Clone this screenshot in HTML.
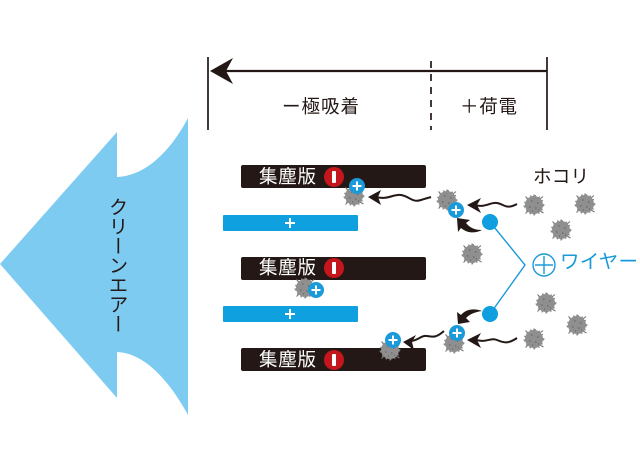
<!DOCTYPE html>
<html><head><meta charset="utf-8"><style>
html,body{margin:0;padding:0;background:#fff}
svg{display:block}
text{font-family:"Liberation Sans","Noto Sans CJK JP",sans-serif}
</style></head><body>
<svg width="640" height="453" viewBox="0 0 640 453" xmlns="http://www.w3.org/2000/svg">
<defs>
<g id="d">
<path d="M-6-6-8.500-8.500M6-6 9-8.500M6 6 9.500 8M-6 6-8.500 8.500M0-8V-10.500M0 8V10.500M-8 1H-10.500M8 0H10.500" stroke="#777" stroke-width="1.1"/>
<circle r="9" fill="#8f8f8f"/>
<circle r="9.300" fill="none" stroke="#8a8a8a" stroke-width="1.600" stroke-dasharray="1.400 3"/>
<path d="M-3-4h1.500M3-2h1.500M-5 2h1.500M1 3h1.500M4 5h1M-2 6h1" stroke="#5c5c5c" stroke-width="1"/>
</g>
<g id="p">
<circle r="8" fill="#1a9ad9"/>
<path d="M-4.500 0H4.500M0-4.500V4.500" stroke="#fff" stroke-width="2"/>
</g>
</defs>

<path d="M0 264 117 132V177C145 176 170 152 188 118V415C170 382 145 353 117 352V398Z" fill="#7ecbf2"/>
<text x="116" y="197" font-size="19.500" fill="#231815" style="writing-mode:vertical-rl;text-orientation:upright" text-anchor="start">クリーンエアー</text>

<g stroke="#231815" fill="none">
<path d="M208 57V130M547 57V130" stroke-width="1.700"/>
<path d="M225 71H547" stroke-width="2.200"/>
<path d="M431 61V130" stroke-width="1.700" stroke-dasharray="7 6"/>
</g>
<path d="M210 71 233 58 226 71 233 84Z" fill="#231815"/>
<text x="282" y="113" font-size="18.500" fill="#231815" textLength="77">ー極吸着</text>
<text x="460" y="113" font-size="18.500" fill="#231815" textLength="57">＋荷電</text>

<g fill="#231815">
<rect x="241" y="165" width="185" height="23" rx="2"/>
<rect x="241" y="257" width="185" height="23" rx="2"/>
<rect x="241" y="348" width="185" height="23" rx="2"/>
</g>
<g fill="#fff" font-size="18.500">
<text x="259" y="183" textLength="57">集塵版</text>
<text x="259" y="274" textLength="57">集塵版</text>
<text x="259" y="366" textLength="57">集塵版</text>
</g>
<g>
<circle cx="334" cy="177" r="10" fill="#c4161c"/><rect x="332" y="171" width="4" height="12" rx="1" fill="#fff"/>
<circle cx="334" cy="268" r="10" fill="#c4161c"/><rect x="332" y="262" width="4" height="12" rx="1" fill="#fff"/>
<circle cx="334" cy="360" r="10" fill="#c4161c"/><rect x="332" y="354" width="4" height="12" rx="1" fill="#fff"/>
</g>

<rect x="223" y="215" width="135" height="16" rx="1" fill="#0fa0e0"/>
<rect x="223" y="306" width="135" height="16" rx="1" fill="#0fa0e0"/>
<path d="M285 223H295M290 218V228M285 314H295M290 309V319" stroke="#fff" stroke-width="2"/>

<use href="#d" x="354" y="196"/>
<use href="#d" x="447" y="200"/>
<use href="#d" x="534" y="205"/>
<use href="#d" x="585" y="204"/>
<use href="#d" x="561" y="230"/>
<use href="#d" x="472" y="254"/>
<use href="#d" x="546" y="303"/>
<use href="#d" x="577" y="325"/>
<use href="#d" x="534" y="339"/>
<use href="#d" x="454" y="343"/>
<use href="#d" x="390" y="350"/>
<use href="#d" x="305" y="288"/>

<use href="#p" x="357" y="186"/>
<use href="#p" x="456" y="210"/>
<use href="#p" x="457" y="333"/>
<use href="#p" x="316" y="290"/>
<use href="#p" x="393" y="340"/>

<g fill="none" stroke="#231815" stroke-width="2">
<path d="M376 197C388 200 393 194 401 195S412 203 421 200 428 198 431 197"/>
<path d="M474 205C486 208 490 202 497 203S506 210 517 204"/>
<path d="M474 339C486 344 490 337 497 340S508 344 517 338"/>
<path d="M410 341C418 341 421 335 427 336S436 338 444 331"/>
</g>
<g fill="#231815">
<path d="M368 197 381 190 378 197 381 205Z"/>
<path d="M467 205 481 198 477 205 481 213Z"/>
<path d="M467 340 481 333 477 340 481 348Z"/>
<path d="M403 342 416 335 412 342 414 350Z"/>
<path d="M457 218 470 220 466 223C470 228 475 230 482 230 476 233 468 234 461 228L458 232Z"/>
<path d="M458 324 470 322 466 318C470 314 475 312 482 311 474 308 466 309 461 315L457 312Z"/>
</g>

<path d="M490 222 525 265 490 314" fill="none" stroke="#1a9ad9" stroke-width="1.400"/>
<circle cx="490" cy="222" r="8" fill="#0f9ee0"/>
<circle cx="490" cy="314" r="8" fill="#0f9ee0"/>
<circle cx="544" cy="265" r="11" fill="none" stroke="#1a9ad9" stroke-width="1.400"/>
<path d="M535 265H553M544 256V274" stroke="#1a9ad9" stroke-width="1.400"/>
<text x="560" y="268" font-size="19.500" fill="#1a9ad9" textLength="78">ワイヤー</text>
<text x="533" y="183" font-size="18.500" fill="#231815" textLength="56">ホコリ</text>
</svg>
</body></html>
